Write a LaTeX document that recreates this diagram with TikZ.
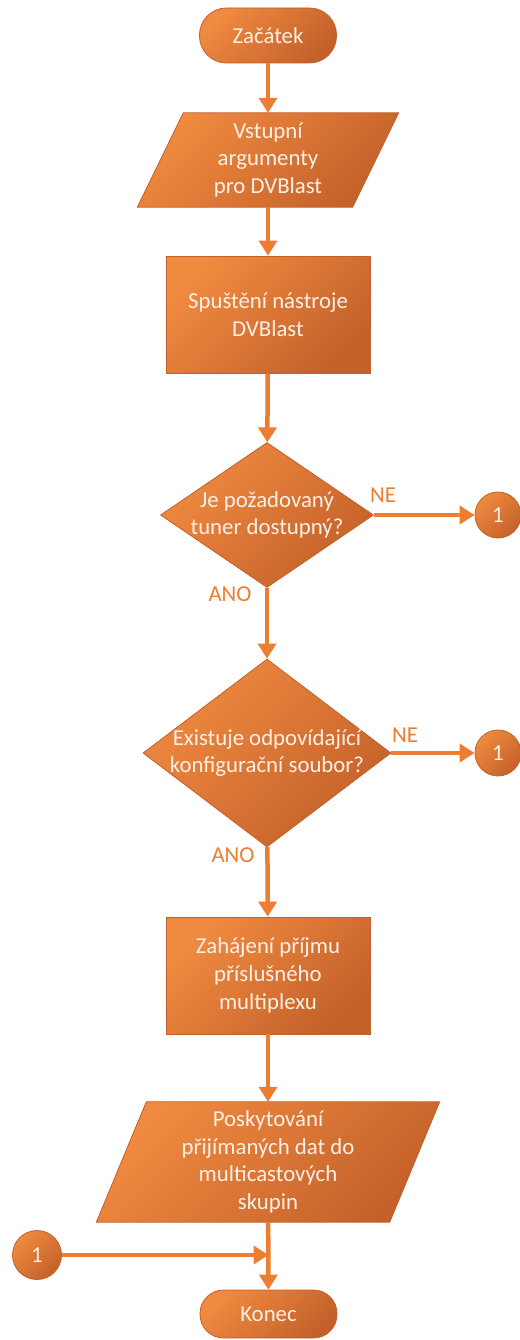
\documentclass[tikz,border=0pt]{standalone}
\usepackage{fontspec}
\setmainfont{Carlito}
\usetikzlibrary{shapes.geometric,arrows.meta,backgrounds}
\definecolor{orL}{HTML}{F08A40}
\definecolor{orD}{HTML}{C4612A}
\definecolor{orB}{HTML}{C2602A}
\definecolor{orA}{HTML}{ED7D31}
\definecolor{txtc}{HTML}{FDF0E6}
\begin{document}
\begin{tikzpicture}[x=1pt,y=-1pt,
  font=\fontsize{22.8}{27.8}\selectfont,
  base/.style={draw=orB, line width=0.8pt, top color=orL, bottom color=orD, shading angle=45},
  txt/.style={text=txtc, align=center, inner sep=0pt},
  term/.style={base, txt, rectangle, minimum width=137pt, minimum height=#1, rounded corners=0.49*#1},
  procbox/.style={base, txt, rectangle, minimum width=204pt, minimum height=117pt},
  iobox/.style={txt, rectangle, draw=none},
  dec/.style={base, diamond, inner sep=0pt},
  conn/.style={base, txt, circle, minimum size=46pt},
  arr/.style={draw=orA, line width=4.5pt, -{Triangle[length=15pt,width=18pt]}},
  lab/.style={text=orA, inner sep=0pt}
]
\useasboundingbox (0,0) rectangle (519,1340);

% nodes
\node[term=55pt] (start) at (268,35.5) {Začátek};
\node[iobox, minimum width=215pt, minimum height=94pt] (p1) at (268,160) {Vstupní\\argumenty\\pro DVBlast};
\node[procbox] (r1) at (268,314.5) {Spuštění nástroje\\DVBlast};
\node[dec, minimum width=213pt, minimum height=145pt,
  label={[txt]center:{Je požadovaný\\tuner dostupný?}}] (d1) at (267,515) {};
\node[conn] (c1) at (498,515) {1};
\node[dec, minimum width=248pt, minimum height=188pt,
  label={[txt]center:{Existuje odpovídající\\konfigurační soubor?}}] (d2) at (267,753) {};
\node[conn] (c2) at (498,753) {1};
\node[procbox] (r2) at (268,975.5) {Zahájení příjmu\\příslušného\\multiplexu};
\node[iobox, minimum width=293pt, minimum height=120pt] (p2) at (268,1162) {Poskytování\\přijímaných dat do\\multicastových\\skupin};
\node[conn, minimum size=49pt] (c3) at (37,1255) {1};
\node[term=48pt] (end) at (268.5,1314) {Konec};
\coordinate (j) at (end.north |- c3.center);

% parallelograms behind their texts
\begin{scope}[on background layer]
\path[base] ([xshift=23pt]p1.north west) -- ([xshift=23pt]p1.north east)
  -- ([xshift=-23pt]p1.south east) -- ([xshift=-23pt]p1.south west) -- cycle;
\path[base] ([xshift=25pt]p2.north west) -- ([xshift=25pt]p2.north east)
  -- ([xshift=-25pt]p2.south east) -- ([xshift=-25pt]p2.south west) -- cycle;
\end{scope}

% connectors
\draw[arr] (start) -- (p1);
\draw[arr] (p1) -- (r1);
\draw[arr] (r1) -- (d1);
\draw[arr] (d1.east) -- (c1);
\draw[arr] (d1) -- (d2);
\draw[arr] (d2.east) -- (c2);
\draw[arr] (d2) -- (r2);
\draw[arr] (r2) -- (p2);
\draw[arr] (p2) -- (end);
\draw[arr] (c3) -- (j);

% branch labels
\node[lab] (ne1) at (383,495) {NE};
\node[lab] (ano1) at (230,594) {ANO};
\node[lab] (ne2) at (405,735) {NE};
\node[lab] (ano2) at (233,855) {ANO};
\end{tikzpicture}
\end{document}
